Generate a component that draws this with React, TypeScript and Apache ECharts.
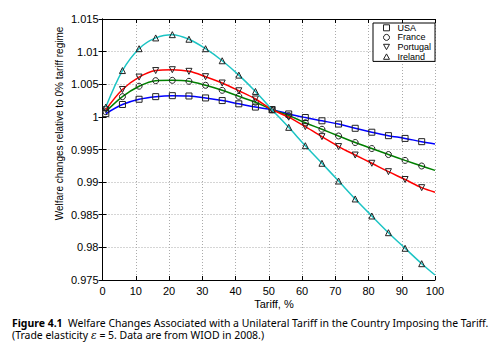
import React, { useEffect, useRef } from "react";
import * as echarts from "echarts";

const tariffs = [1, 6, 11, 16, 21, 26, 31, 36, 41, 46, 51, 56, 61, 66, 71, 76, 81, 86, 91, 96, 100];
const usa = [1.0005, 1.0019, 1.0027, 1.0031, 1.00325, 1.0032, 1.0029, 1.0025, 1.002, 1.0015, 1.0011, 1.00045, 0.9999, 0.9994, 0.9989, 0.99825, 0.99765, 0.99712, 0.9967, 0.9962, 0.99585];
const france = [1.0008, 1.0031, 1.0047, 1.00555, 1.0056, 1.00545, 1.00484, 1.00407, 1.00315, 1.00225, 1.0011, 1.0002, 0.9991, 0.9981, 0.99707, 0.99607, 0.99515, 0.99423, 0.99333, 0.99247, 0.9918];
const portugal = [1.0011, 1.0042, 1.0061, 1.0071, 1.00723, 1.00698, 1.00616, 1.00519, 1.004, 1.00274, 1.0011, 0.99995, 0.9985, 0.99697, 0.99545, 0.99415, 0.99289, 0.9916, 0.9904, 0.98915, 0.98844];
const ireland = [1.0015, 1.0071, 1.01045, 1.0121, 1.0126, 1.0119, 1.01045, 1.0086, 1.0064, 1.0039, 1.0011, 0.9984, 0.99558, 0.99289, 0.99017, 0.98742, 0.98481, 0.98225, 0.97986, 0.9775, 0.97577];

const seriesNames = ["USA", "France", "Portugal", "Ireland"];
const seriesValues = [usa, france, portugal, ireland];
const seriesColors = ["#0000ff", "#008000", "#ff0000", "#1cc4c4"];
const seriesSymbols = ["rect", "circle", "triangle", "triangle"];
const seriesRotate = [0, 0, 180, 0];
const legendIcons = ["rect", "circle", "path://M0,0 L10,0 L5,9 Z", "path://M5,0 L10,9 L0,9 Z"];

const xTicks = { min: 0, max: 100, interval: 10 };
const yTicks = { min: 0.975, max: 1.015, interval: 0.005 };

const yAxisTitle = "Welfare changes relative to 0% tariff regime";
const xAxisTitle = "Tariff, %";
const captionBold = "Figure 4.1";
const captionLine1 = "Welfare Changes Associated with a Unilateral Tariff in the Country Imposing the Tariff.";
const captionLine2a = "(Trade elasticity ";
const captionEps = "ε";
const captionLine2b = " = 5. Data are from WIOD in 2008.)";

const FONT = "'Liberation Sans', Arial, sans-serif";
const CAP_FONT = "Noto Sans";

function measure(text: string, font: string): number {
  const c = document.createElement("canvas");
  const ctx = c.getContext("2d");
  if (!ctx) return text.length * 6;
  ctx.font = font;
  return ctx.measureText(text).width;
}

export default function App() {
  const ref = useRef<HTMLDivElement>(null);
  useEffect(() => {
    if (!ref.current) return;
    const chart = echarts.init(ref.current, null, { renderer: "svg" });

    const capSize = 11;
    const w1 =
      measure(captionBold + "  ", `bold ${capSize}px "${CAP_FONT}"`) +
      measure(captionLine1, `${capSize}px "${CAP_FONT}"`);
    const capScale = 477 / w1;

    const markerStyle = { color: "rgba(255,255,255,0)", borderColor: "#222", borderWidth: 1 };

    const series = seriesNames.map((name, si) => ({
      name,
      type: "line",
      xAxisIndex: 0,
      yAxisIndex: 0,
      smooth: 0.35,
      showAllSymbol: true,
      symbol: seriesSymbols[si],
      symbolSize: 6,
      symbolRotate: seriesRotate[si],
      lineStyle: { color: seriesColors[si], width: 1.5 },
      itemStyle: markerStyle,
      emphasis: { disabled: true },
      z: 2 + si,
      data: tariffs.map((t, i) =>
        i === tariffs.length - 1
          ? { value: [t, seriesValues[si][i]], symbol: "none" }
          : [t, seriesValues[si][i]]
      ),
    }));

    const axisCommon = {
      type: "value",
      axisLine: { show: true, lineStyle: { color: "#000", width: 1 } },
      axisTick: { show: true, inside: true, length: 4, lineStyle: { color: "#000" } },
    };

    chart.setOption({
      animation: false,
      backgroundColor: "#fff",
      grid: { left: 102.5, right: 65, top: 19, bottom: 74, show: false },
      xAxis: [
        {
          ...axisCommon,
          position: "bottom",
          min: xTicks.min,
          max: xTicks.max,
          interval: xTicks.interval,
          axisLabel: { color: "#000", fontSize: 11, fontFamily: FONT, margin: 5 },
          splitLine: { show: true, lineStyle: { color: "#aaaaaa", type: [1, 2], width: 1 } },
        },
        {
          ...axisCommon,
          position: "top",
          min: xTicks.min,
          max: xTicks.max,
          interval: xTicks.interval,
          axisLabel: { show: false },
          splitLine: { show: false },
        },
      ],
      yAxis: [
        {
          ...axisCommon,
          position: "left",
          min: yTicks.min,
          max: yTicks.max,
          interval: yTicks.interval,
          axisLabel: {
            color: "#000",
            fontSize: 11,
            fontFamily: FONT,
            margin: 4,
            formatter: (v: number) => String(parseFloat(v.toFixed(3))),
          },
          splitLine: { show: true, lineStyle: { color: "#aaaaaa", type: [1, 2], width: 1 } },
        },
        {
          ...axisCommon,
          position: "right",
          min: yTicks.min,
          max: yTicks.max,
          interval: yTicks.interval,
          axisLabel: { show: false },
          splitLine: { show: false },
        },
      ],
      legend: {
        show: true,
        orient: "vertical",
        left: 373,
        top: 23,
        width: 58,
        padding: [0, 4, 0, 10],
        itemGap: 0,
        itemWidth: 6,
        itemHeight: 6,
        borderColor: "#000",
        borderWidth: 1,
        backgroundColor: "#fff",
        textStyle: { color: "#000", fontSize: 9, fontFamily: FONT, lineHeight: 9.6, padding: [0, 0, 0, 3] },
        data: seriesNames.map((name, si) => ({
          name,
          icon: legendIcons[si],
          itemStyle: markerStyle,
        })),
      },
      graphic: [
        {
          type: "text",
          x: 59,
          y: 123.5,
          rotation: Math.PI / 2,
          style: {
            text: yAxisTitle,
            fontSize: 10,
            fontFamily: FONT,
            fill: "#000",
            align: "center",
            verticalAlign: "middle",
          },
        },
        {
          type: "text",
          x: 274,
          y: 304,
          style: {
            text: xAxisTitle,
            fontSize: 11,
            fontFamily: FONT,
            fill: "#000",
            align: "center",
            verticalAlign: "middle",
          },
        },
        {
          type: "text",
          x: 12,
          y: 322.5,
          scaleX: capScale,
          style: {
            text: `{b|${captionBold}}  ${captionLine1}`,
            fontSize: capSize,
            fontFamily: CAP_FONT,
            fill: "#000",
            align: "left",
            verticalAlign: "middle",
            rich: { b: { fontWeight: "bold", fontSize: capSize, fontFamily: CAP_FONT, fill: "#000" } },
          },
        },
        {
          type: "text",
          x: 12,
          y: 335,
          scaleX: capScale,
          style: {
            text: `${captionLine2a}{e|${captionEps}}${captionLine2b}`,
            fontSize: capSize,
            fontFamily: CAP_FONT,
            fill: "#000",
            align: "left",
            verticalAlign: "middle",
            rich: { e: { fontStyle: "italic", fontSize: capSize, fontFamily: "DejaVu Serif", fill: "#000" } },
          },
        },
      ],
      series,
    });
    return () => chart.dispose();
  }, []);
  return <div ref={ref} style={{ position: "fixed", left: 0, top: 0, width: 500, height: 354 }} />;
}
